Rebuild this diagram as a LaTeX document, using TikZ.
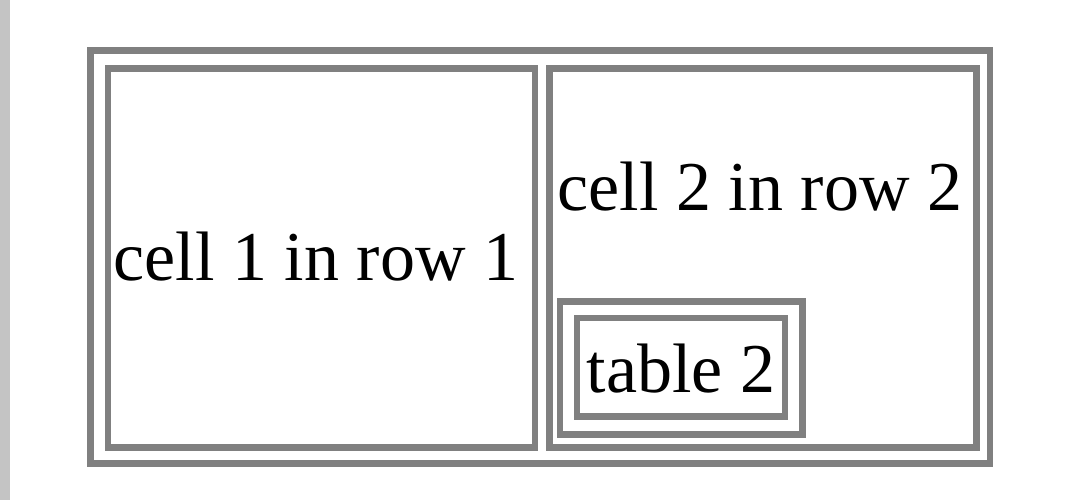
\documentclass[tikz,border=0pt]{standalone}
\usepackage{fontspec}
\setmainfont{Liberation Serif}
\usetikzlibrary{positioning}
\definecolor{framegray}{HTML}{808080}
\definecolor{bargray}{HTML}{C4C4C4}
\begin{document}
\begin{tikzpicture}[x=0.5pt,y=-0.5pt,every node/.style={font=\fontsize{35}{42}\selectfont,inner sep=0pt,anchor=base},
        frame/.style={draw=framegray,line width=3.25pt}]
                \useasboundingbox (0,0) rectangle (1079,500);
                \fill [bargray] (0,0) rectangle (10,500);
                % outer table and its two cells
                \draw [frame] (90.5,50.5) rectangle (990,463.5);
                \draw [frame] (108,68.5) rectangle (535,447.5);
                \draw [frame] (549.5,68.5) rectangle (976.5,447.5);
                % nested table
                \draw [frame] (560,301.5) rectangle (802.5,434.5);
                \draw [frame] (577,318) rectangle (785,416.5);
                \node (cellone) at (316,280) {cell 1 in row 1};
                \node (celltwo) at (760,210) {cell 2 in row 2};
                \node (tabletwo) at (681,392) {table 2};
            \end{tikzpicture}
\end{document}
